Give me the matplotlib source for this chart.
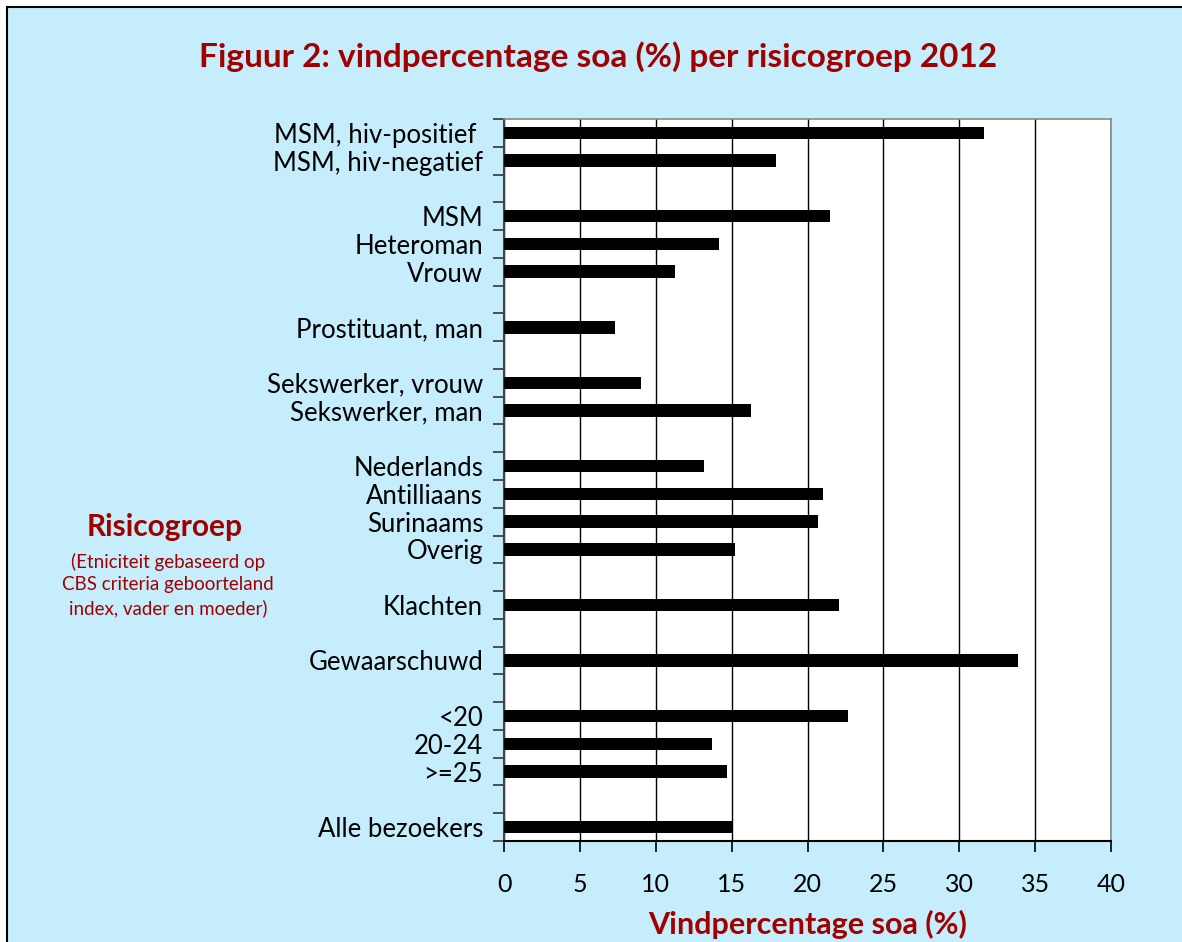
import numpy as np
from matplotlib import pyplot as plt
from matplotlib.patches import Rectangle

# groups of risk categories (a blank row sits between groups)
group_labels = [
    ['MSM, hiv-positief ', 'MSM, hiv-negatief'],
    ['MSM', 'Heteroman', 'Vrouw'],
    ['Prostituant, man'],
    ['Sekswerker, vrouw', 'Sekswerker, man'],
    ['Nederlands', 'Antilliaans', 'Surinaams', 'Overig'],
    ['Klachten'],
    ['Gewaarschuwd'],
    ['<20', '20-24', '>=25'],
    ['Alle bezoekers'],
]
group_values = [
    [31.6, 17.9],
    [21.5, 14.2, 11.3],
    [7.3],
    [9.0, 16.3],
    [13.2, 21.0, 20.7, 15.2],
    [22.1],
    [33.9],
    [22.7, 13.7, 14.7],
    [15.0],
]
x_ticks = [0, 5, 10, 15, 20, 25, 30, 35, 40]

title = 'Figuur 2: vindpercentage soa (%) per risicogroep 2012'
x_title = 'Vindpercentage soa (%)'
y_title = 'Risicogroep'
y_note = '(Etniciteit gebaseerd op\nCBS criteria geboorteland\nindex, vader en moeder)'

RED = '#A00000'
BLUE = '#C6EDFC'

if __name__ == '__main__':
    plt.rcParams['font.family'] = ['Lato', 'DejaVu Sans']

    fig = plt.figure(figsize=(11.82, 9.42), dpi=100, facecolor='white')
    W, H = 1182, 942
    fig.patches.append(Rectangle((7 / W, -0.1), 1.2, 1.1 - 7 / H, transform=fig.transFigure,
                                 facecolor=BLUE, edgecolor='black', linewidth=1.5, zorder=-5))

    ax = fig.add_axes([504 / W, 1 - 841 / H, (1111 - 504) / W, (841 - 119) / H])
    ax.set_facecolor('white')

    # lay out rows with one empty slot between groups
    pos, labels, values = [], [], []
    slot = 0
    for labs, vals in zip(group_labels, group_values):
        for lab, v in zip(labs, vals):
            pos.append(slot)
            labels.append(lab)
            values.append(v)
            slot += 1
        slot += 1
    n_slots = slot - 1

    ax.barh(pos, values, height=0.45, color='black', zorder=3)
    ax.set_ylim(n_slots - 0.5, -0.5)
    ax.set_xlim(0, 40)

    ax.set_yticks(pos)
    ax.set_yticklabels(labels, fontsize=18.5)
    ax.tick_params(axis='y', which='major', length=0, pad=15)
    ax.set_yticks(np.arange(-0.5, n_slots, 1), minor=True)
    ax.tick_params(axis='y', which='minor', length=8, width=1.2, color='#333333', direction='out')

    ax.set_xticks(x_ticks)
    ax.set_xticklabels([str(t) for t in x_ticks], fontsize=18)
    ax.tick_params(axis='x', length=8, width=1.2, direction='out', pad=15)
    ax.grid(axis='x', color='black', linewidth=1.0, zorder=1)

    for side in ['top', 'right']:
        ax.spines[side].set_color('#888888')
        ax.spines[side].set_linewidth(1.2)
    ax.spines['left'].set_color('#444444')
    ax.spines['left'].set_linewidth(1.5)
    ax.spines['bottom'].set_linewidth(1.5)

    fig.text(598 / W, 1 - 57 / H, title, color=RED, fontsize=24, fontweight='bold',
             ha='center', va='center')
    fig.text(808 / W, 1 - 924 / H, x_title, color=RED, fontsize=22, fontweight='bold',
             ha='center', va='center')
    fig.text(165 / W, 1 - 527 / H, y_title, color=RED, fontsize=21.5, fontweight='bold',
             ha='center', va='center')
    fig.text(168 / W, 1 - 585 / H, y_note, color=RED, fontsize=13.5, ha='center', va='center',
             linespacing=1.4)

    fig.savefig('out.png', dpi=100, facecolor='white')
    plt.close(fig)
